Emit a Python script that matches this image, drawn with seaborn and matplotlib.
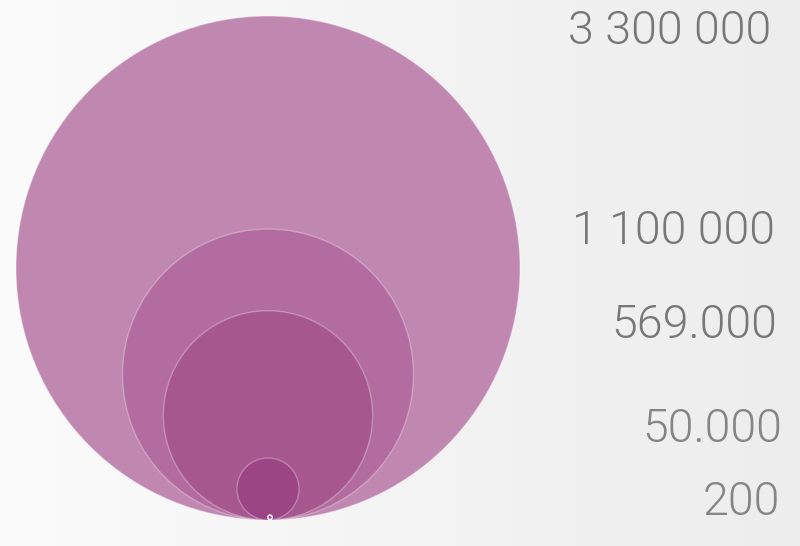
import numpy as np
import matplotlib
matplotlib.use("Agg")
import matplotlib.pyplot as plt
from matplotlib.patches import Circle
import seaborn as sns

# data
labels = ["3 300 000", "1 100 000", "569.000", "50.000", "200"]
values = [3300000, 1100000, 569000, 50000, 200]
colors = ["#c087b1", "#b26c9f", "#a6578e", "#9c4585", "#9c4585"]

sns.set_theme(style="white")
plt.rcParams['font.family'] = ['Roboto', 'DejaVu Sans']

W, H = 800, 546
fig = plt.figure(figsize=(8, 5.46), dpi=100)
bg = fig.add_axes([0, 0, 1, 1])
grad = np.linspace(0, 1, 256)[None, :]
bg.imshow(grad, aspect='auto', cmap=matplotlib.colors.LinearSegmentedColormap.from_list(
    "bg", ["#fbfbfb", "#ededed"]), extent=[0, 1, 0, 1])
bg.axis('off')

ax = fig.add_axes([0, 0, 1, 1])
ax.set_xlim(0, W)
ax.set_ylim(H, 0)
ax.set_aspect('equal')
ax.axis('off')
ax.patch.set_alpha(0)

Rmax = 252
cx, base = 268, 520
vmax = max(values)
for i, (v, c) in enumerate(zip(values, colors)):
    r = Rmax * np.sqrt(v / vmax)
    if i == len(values) - 1:
        r = max(r, 2.2)
        ax.add_patch(Circle((cx + 2, base - r - 0.5), r, facecolor=c, edgecolor="white", lw=1.0, zorder=10 + i))
    else:
        ax.add_patch(Circle((cx, base - r), r, facecolor=c, edgecolor=(1, 1, 1, 0.3), lw=1.0, zorder=10 + i))

label_y = [31, 231, 325, 429, 502]
label_x = [771, 775, 777, 782, 780]
label_c = ["#777777", "#777777", "#777777", "#858585", "#858585"]
label_w = [300, 300, 300, 300, 300]
for t, x, y, c, w in zip(labels, label_x, label_y, label_c, label_w):
    ax.text(x, y, t, ha='right', va='center', fontsize=33.5, color=c, fontweight=w)

fig.savefig("out.png", dpi=100)
